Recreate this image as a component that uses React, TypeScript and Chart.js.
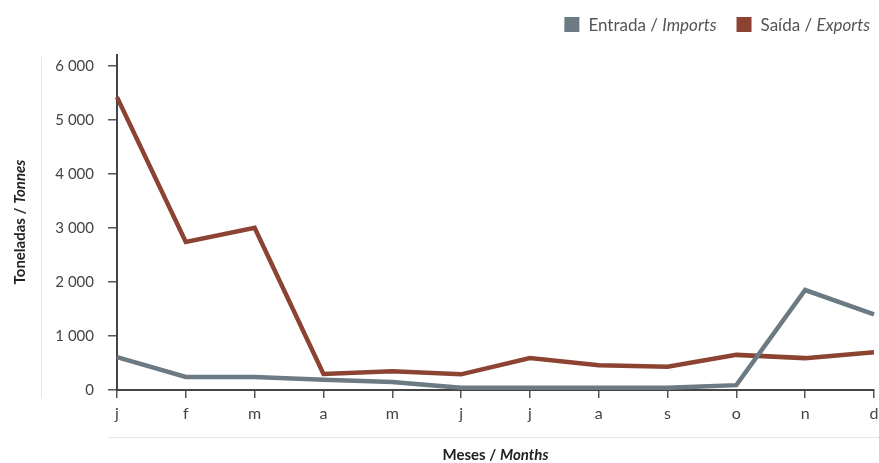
import React, { useEffect, useRef } from "react";
import { Chart, registerables } from "chart.js";

Chart.register(...registerables);

const months = ["j", "f", "m", "a", "m", "j", "j", "a", "s", "o", "n", "d"];
const imports = [610, 240, 240, 190, 150, 40, 40, 40, 40, 90, 1850, 1400];
const exports = [5420, 2740, 3000, 296, 345, 290, 590, 460, 430, 650, 590, 700];
const yTicks = [0, 1000, 2000, 3000, 4000, 5000, 6000];

const COL_IMP = "#6b7a83";
const COL_EXP = "#8c4332";
const FONT = "Lato, 'DejaVu Sans', sans-serif";

function fmt(v: number) {
  const s = String(v);
  return s.length > 3 ? s.slice(0, s.length - 3) + " " + s.slice(-3) : s;
}

const decor = {
  id: "decor",
  afterDraw(chart: any) {
    const ctx = chart.ctx;
    const ca = chart.chartArea;
    ctx.save();
    ctx.strokeStyle = "#e6e6e6";
    ctx.lineWidth = 1;
    ctx.beginPath();
    ctx.moveTo(41.5, 57);
    ctx.lineTo(41.5, 398);
    ctx.moveTo(108, 437.5);
    ctx.lineTo(879, 437.5);
    ctx.stroke();

    ctx.textBaseline = "alphabetic";
    const items = [
      { a: "Entrada / ", b: "Imports", c: COL_IMP },
      { a: "Saída / ", b: "Exports", c: COL_EXP },
    ];
    const fa = `17px ${FONT}`;
    const fb = `italic 17px ${FONT}`;
    let right = 870;
    const pos: any[] = [];
    for (let i = items.length - 1; i >= 0; i--) {
      const it = items[i];
      ctx.font = fa;
      const wa = ctx.measureText(it.a).width;
      ctx.font = fb;
      const wb = ctx.measureText(it.b).width;
      const textX = right - wa - wb;
      const boxX = textX - 24;
      pos[i] = { textX, boxX, wa };
      right = boxX - 20;
    }
    items.forEach((it, i) => {
      const p = pos[i];
      ctx.fillStyle = it.c;
      ctx.fillRect(p.boxX, 17, 15, 15);
      ctx.fillStyle = "#555";
      ctx.font = fa;
      ctx.fillText(it.a, p.textX, 31);
      ctx.font = fb;
      ctx.fillText(it.b, p.textX + p.wa, 31);
    });

    ctx.fillStyle = "#222";
    const xa = "Meses / ";
    const xb = "Months";
    const tf = `bold 15px ${FONT}`;
    const tfi = `italic bold 15px ${FONT}`;
    ctx.font = tf;
    const wxa = ctx.measureText(xa).width;
    ctx.font = tfi;
    const wxb = ctx.measureText(xb).width;
    const cx = (ca.left + ca.right) / 2;
    let sx = cx - (wxa + wxb) / 2;
    ctx.font = tf;
    ctx.fillText(xa, sx, 460);
    ctx.font = tfi;
    ctx.fillText(xb, sx + wxa, 460);

    ctx.translate(25, 222);
    ctx.rotate(-Math.PI / 2);
    const ya = "Toneladas / ";
    const yb = "Tonnes";
    ctx.font = tf;
    const wya = ctx.measureText(ya).width;
    ctx.font = tfi;
    const wyb = ctx.measureText(yb).width;
    sx = -(wya + wyb) / 2;
    ctx.font = tf;
    ctx.fillText(ya, sx, 0);
    ctx.font = tfi;
    ctx.fillText(yb, sx + wya, 0);
    ctx.restore();
  },
};

export default function App() {
  const ref = useRef<HTMLCanvasElement>(null);
  useEffect(() => {
    if (!ref.current) return;
    const chart = new Chart(ref.current, {
      type: "line",
      data: {
        labels: months,
        datasets: [
          {
            label: "Entrada / Imports",
            data: imports,
            borderColor: COL_IMP,
            backgroundColor: COL_IMP,
            borderWidth: 4.5,
            pointRadius: 0,
            tension: 0,
          },
          {
            label: "Saída / Exports",
            data: exports,
            borderColor: COL_EXP,
            backgroundColor: COL_EXP,
            borderWidth: 4.5,
            pointRadius: 0,
            tension: 0,
          },
        ],
      },
      options: {
        animation: false,
        responsive: false,
        layout: { padding: { top: 55, right: 5, left: 0, bottom: 0 } },
        plugins: { legend: { display: false }, tooltip: { enabled: false } },
        scales: {
          x: {
            offset: false,
            grid: { drawOnChartArea: false, drawTicks: true, tickLength: 8, color: "#555", lineWidth: 1.5 },
            border: { color: "#444", width: 2 },
            ticks: { color: "#444", font: { family: FONT, size: 16 }, padding: 6, maxRotation: 0, autoSkip: false },
            afterFit(scale: any) {
              scale.height = 73;
              scale.paddingLeft = 0;
              scale.paddingRight = 0;
            },
          },
          y: {
            min: 0,
            max: 6200,
            grid: { drawOnChartArea: false, drawTicks: true, tickLength: 9, color: "#555", lineWidth: 1.5 },
            border: { color: "#444", width: 2 },
            ticks: {
              color: "#444",
              font: { family: FONT, size: 15 },
              padding: 14,
              callback: (v: any) => fmt(Number(v)),
            },
            afterBuildTicks(scale: any) {
              scale.ticks = yTicks.map((v) => ({ value: v }));
            },
            afterFit(scale: any) {
              scale.width = 117;
              scale.paddingTop = 0;
              scale.paddingBottom = 0;
            },
          },
        },
      },
      plugins: [decor],
    });
    return () => chart.destroy();
  }, []);
  return (
    <div style={{ position: "absolute", left: 0, top: 0, width: 879, height: 463 }}>
      <canvas ref={ref} width={879} height={463} style={{ width: 879, height: 463 }} />
    </div>
  );
}
